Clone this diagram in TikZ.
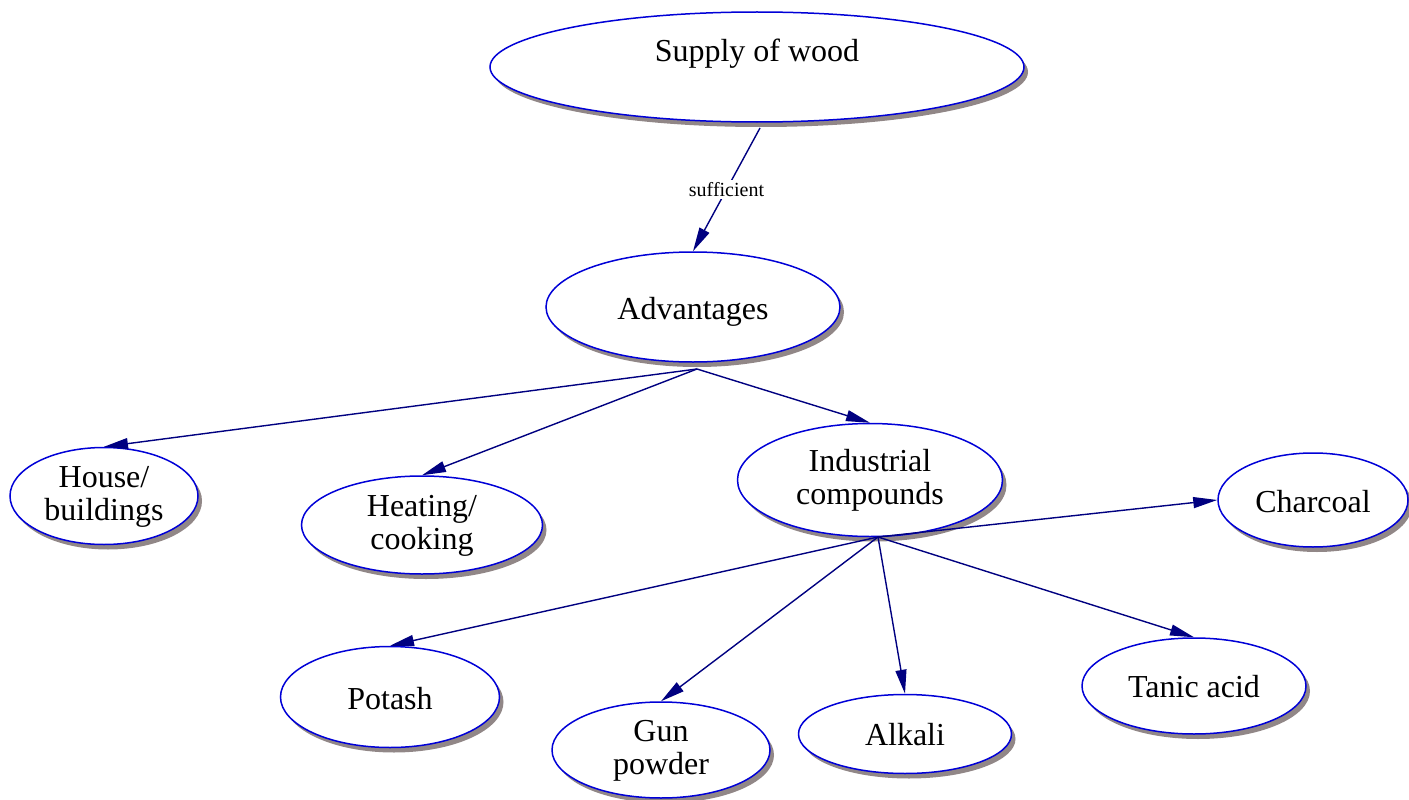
\documentclass[tikz,border=0pt]{standalone}
\usepackage{fontspec}
\setmainfont{Liberation Serif}
\usetikzlibrary{shapes.geometric,arrows.meta,shadows}
\definecolor{rim}{RGB}{0,0,215}
\definecolor{linkcol}{RGB}{0,0,128}
\definecolor{shade}{RGB}{145,135,135}
\tikzset{
  topic/.style={ellipse, draw=rim, line width=1.5pt, fill=white, inner sep=0pt,
    align=center, font=\fontsize{32}{33}\selectfont,
    drop shadow={shadow xshift=4pt, shadow yshift=-5pt, fill=shade, opacity=1}},
  oneline/.style={text height=32pt, text depth=8pt},
  twoline/.style={text height=57pt, text depth=8pt},
  link/.style={draw=linkcol, line width=1.4pt, -{Triangle[length=24pt,width=11pt]}},
  edgelabel/.style={fill=white, inner sep=2pt, font=\fontsize{20}{20}\selectfont},
}
\begin{document}
\begin{tikzpicture}[x=1pt,y=-1pt]
\useasboundingbox (0,0) rectangle (1409,800);

% concepts
\node[topic, minimum width=534pt, minimum height=110pt, text height=14pt, text depth=24pt] (supply) at (757,67) {Supply of wood};
\node[topic, oneline, minimum width=294pt, minimum height=110pt] (adv) at (693,307) {Advantages};
\node[topic, twoline, minimum width=188pt, minimum height=97pt] (house) at (104,496) {House/\\buildings};
\node[topic, twoline, minimum width=241pt, minimum height=98pt] (heat) at (422,525) {Heating/\\cooking};
\node[topic, twoline, minimum width=265pt, minimum height=113pt] (ind) at (870,480) {Industrial\\compounds};
\node[topic, oneline, minimum width=190pt, minimum height=94pt] (char) at (1313,500) {Charcoal};
\node[topic, oneline, minimum width=219pt, minimum height=101pt] (potash) at (390,697) {Potash};
\node[topic, twoline, minimum width=218pt, minimum height=96pt] (gun) at (661,750) {Gun\\powder};
\node[topic, minimum width=213pt, minimum height=79pt, text height=30pt, text depth=8pt] (alkali) at (905,734) {Alkali};
\node[topic, minimum width=224pt, minimum height=96pt, text height=30pt, text depth=8pt] (tanic) at (1194,686) {Tanic acid};

% edge tails just below the parent concepts
\coordinate (suptail) at (760,128);
\coordinate (advtail) at (697,369);
\coordinate (indtail) at (878,537);

% links
\draw[link] (suptail) -- node[edgelabel] {sufficient} (adv.north);
\draw[link] (advtail) -- (house.north);
\draw[link] (advtail) -- (heat.north);
\draw[link] (advtail) -- (ind.north);
\draw[link] (indtail) -- (char.west);
\draw[link] (indtail) -- (potash.north);
\draw[link] (indtail) -- (gun.north);
\draw[link] (indtail) -- (alkali.north);
\draw[link] (indtail) -- (tanic.north);
\end{tikzpicture}
\end{document}
